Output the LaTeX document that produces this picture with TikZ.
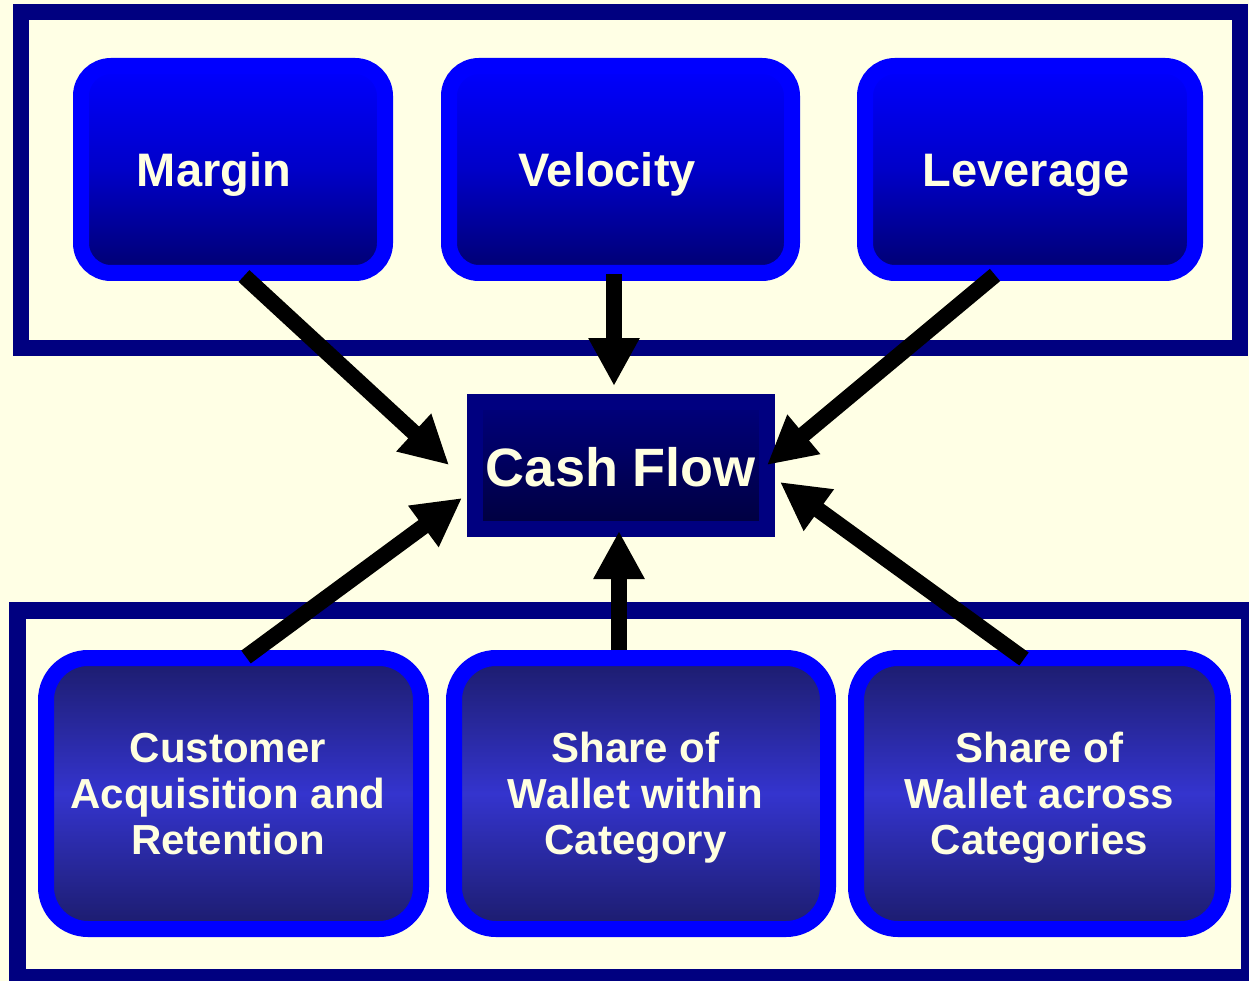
\documentclass[tikz,border=0pt]{standalone}
\usepackage{fontspec}
\setmainfont{Liberation Sans}
\usetikzlibrary{arrows.meta}
\definecolor{bg}{RGB}{255,255,229}
\definecolor{navyc}{RGB}{0,0,128}
\definecolor{txt}{RGB}{255,255,224}
\definecolor{midn}{RGB}{28,28,108}
\definecolor{midb}{RGB}{52,52,206}
\definecolor{dkblue}{RGB}{0,0,112}
\definecolor{cftop}{RGB}{0,0,124}
\definecolor{cfbot}{RGB}{0,0,62}
\begin{document}
\begin{tikzpicture}[x=1pt,y=-1pt,
  frame/.style={draw=navyc,line width=16pt},
  topbox/.style={draw=blue,line width=16pt,rounded corners=30pt,top color=blue,bottom color=dkblue,middle color={rgb,255:red,0;green,0;blue,200},minimum height=207pt,inner sep=0pt},
  botbox/.style={draw=blue,line width=16pt,rounded corners=42pt,top color=midn,bottom color=midn,middle color=midb,minimum height=271pt,inner sep=0pt},
  cfbox/.style={draw=navyc,line width=16pt,top color=cftop,bottom color=cfbot,minimum width=292pt,minimum height=127pt,inner sep=0pt},
  toptext/.style={text=txt,font=\bfseries\fontsize{47}{52}\selectfont,anchor=base,inner sep=0pt},
  cftext/.style={text=txt,font=\bfseries\fontsize{54}{60}\selectfont,anchor=base,inner sep=0pt},
  bottext/.style={text=txt,font=\bfseries\fontsize{42}{46}\selectfont,align=center,anchor=base,inner sep=0pt},
  arr/.style={draw=black,line width=16pt,-{Triangle[length=48pt,width=48pt]}}
]
\fill[bg] (0,0) rectangle (1249,981);
\useasboundingbox (0,0) rectangle (1249,981);

% frames
\draw[frame] (20.5,12) rectangle (1239.5,348);
\draw[frame,line width=17pt] (17.5,610.5) rectangle (1249.5,977.5);

% top boxes
\node[topbox,minimum width=304pt] (margin) at (233,169.5) {};
\node[topbox,minimum width=343pt] (velocity) at (620.5,169.5) {};
\node[topbox,minimum width=330pt] (leverage) at (1030,169.5) {};
\node[toptext] (margin-t) at (214,187) {Margin};
\node[toptext] (velocity-t) at (607,187) {Velocity};
\node[toptext] (leverage-t) at (1026,187) {Leverage};

% cash flow
\node[cfbox] (cash) at (621,465.5) {};
\node[cftext] (cash-t) at (621,486) {Cash Flow};

% bottom boxes
\node[botbox,minimum width=375pt] (cust) at (233.5,793.5) {};
\node[botbox,minimum width=374pt] (within) at (641,793.5) {};
\node[botbox,minimum width=367pt] (across) at (1039.5,793.5) {};
\node[bottext] (cust-t) at (228,854) {Customer\\Acquisition and\\Retention};
\node[bottext] (within-t) at (635.5,854) {Share of\\Wallet within\\Category};
\node[bottext] (across-t) at (1039.5,854) {Share of\\Wallet across\\Categories};

% connector end points
\coordinate (margin-out) at (244,276);
\coordinate (cash-nw) at (449,465);
\coordinate (velocity-out) at (614,274);
\coordinate (cash-n) at (614,386);
\coordinate (leverage-out) at (995,275);
\coordinate (cash-ne) at (767,465);
\coordinate (cust-out) at (246,657);
\coordinate (cash-sw) at (462,498);
\coordinate (within-out) at (619,650);
\coordinate (cash-s) at (619,531);
\coordinate (across-out) at (1024,659);
\coordinate (cash-se) at (780,482);

\draw[arr] (margin-out) -- (cash-nw);
\draw[arr] (velocity-out) -- (cash-n);
\draw[arr] (leverage-out) -- (cash-ne);
\draw[arr] (cust-out) -- (cash-sw);
\draw[arr] (within-out) -- (cash-s);
\draw[arr] (across-out) -- (cash-se);
\end{tikzpicture}
\end{document}
